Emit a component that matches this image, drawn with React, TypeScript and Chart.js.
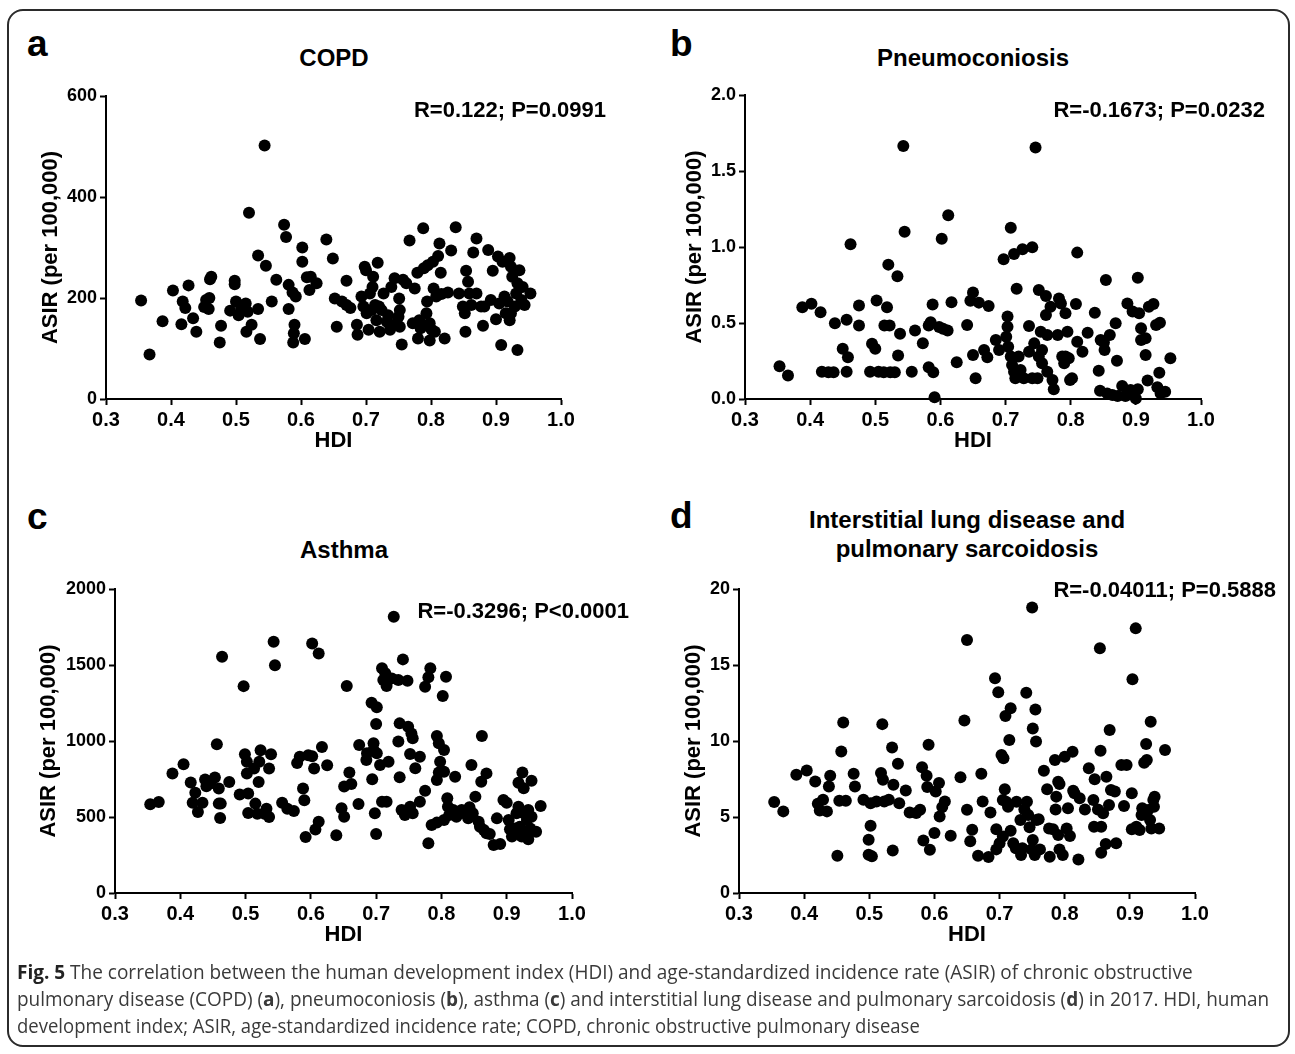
import React, { useEffect, useLayoutEffect, useRef, useState } from 'react';
import { Chart, registerables } from 'chart.js';

Chart.register(...registerables);

const FONT = '"Liberation Sans", Arial, Helvetica, sans-serif';
const CAPTION_FONT = '"Open Sans", "Noto Sans", sans-serif';

// ---- tick labels ----
const xTickValues = [0.3, 0.4, 0.5, 0.6, 0.7, 0.8, 0.9, 1.0];
const yTicksCopd = [0, 200, 400, 600];
const yTicksPneumo = [0, 0.5, 1.0, 1.5, 2.0];
const yTicksAsthma = [0, 500, 1000, 1500, 2000];
const yTicksIld = [0, 5, 10, 15, 20];

// ---- panel a: COPD ----
const hdiCopd = [
  0.354, 0.367, 0.387, 0.403, 0.416, 0.418, 0.422, 0.427, 0.434, 0.439, 0.451, 0.454, 0.458, 0.46, 0.462, 0.459,
  0.477, 0.475, 0.491, 0.498, 0.498, 0.5, 0.504, 0.508, 0.515, 0.518, 0.516, 0.52, 0.524, 0.534, 0.534, 0.537,
  0.544, 0.546, 0.555, 0.562, 0.574, 0.577, 0.581, 0.581, 0.587, 0.59, 0.589, 0.588, 0.592, 0.602, 0.602, 0.606,
  0.609, 0.613, 0.615, 0.624, 0.639,
  0.649, 0.655, 0.652, 0.663, 0.67, 0.67, 0.676, 0.686, 0.687, 0.693, 0.696, 0.698, 0.7, 0.701, 0.704, 0.706,
  0.709, 0.71, 0.711, 0.718, 0.714, 0.716, 0.72, 0.721, 0.727, 0.724, 0.732, 0.734, 0.737, 0.739, 0.744, 0.747,
  0.75, 0.751, 0.752, 0.755, 0.757, 0.762, 0.752, 0.767, 0.772, 0.775, 0.779, 0.78, 0.782, 0.784, 0.788, 0.789,
  0.793, 0.794, 0.795, 0.798, 0.798, 0.801, 0.803, 0.804, 0.806, 0.808, 0.811, 0.813, 0.815, 0.816, 0.821, 0.826,
  0.831, 0.838, 0.843, 0.849, 0.852, 0.853, 0.854, 0.857, 0.859, 0.862, 0.865, 0.87, 0.87, 0.877, 0.88, 0.882,
  0.888, 0.892, 0.895, 0.9, 0.903, 0.905, 0.908, 0.91, 0.913, 0.915, 0.918, 0.921, 0.923, 0.925, 0.929, 0.931,
  0.933, 0.933, 0.936, 0.939, 0.941, 0.944, 0.953, 0.923, 0.921,
];
const asirCopd = [
  195, 88, 154, 215, 148, 193, 180, 225, 160, 133, 182, 196, 178, 237, 242, 200,
  145, 112, 175, 234, 227, 193, 166, 180, 189, 173, 133, 369, 147, 284, 178, 119,
  502, 264, 193, 236, 345, 321, 226, 178, 211, 147, 130, 112, 203, 300, 272, 119,
  241, 216, 242, 229, 316,
  278, 143, 199, 193, 186, 234, 180, 147, 127, 203, 183, 262, 255, 170, 137, 209,
  176, 222, 242, 270, 186, 156, 183, 133, 209, 176, 153, 166, 137, 222, 239, 150,
  163, 199, 176, 108, 236, 229, 143, 314, 150, 219, 250, 120, 156, 140, 338, 259,
  170, 193, 265, 116, 150, 137, 272, 219, 133, 203, 283, 308, 250, 208, 120, 211,
  294, 340, 209, 183, 170, 133, 254, 232, 209, 186, 290, 318, 209, 183, 145, 183,
  295, 196, 254, 158, 282, 189, 107, 272, 203, 170, 193, 279, 262, 242, 183, 209,
  97, 229, 255, 196, 222, 186, 209, 170, 156,
];

// ---- panel b: Pneumoconiosis ----
const hdiPneumo = [
  0.353, 0.366, 0.388, 0.402, 0.416, 0.418, 0.428, 0.436, 0.438, 0.45, 0.456, 0.458, 0.456, 0.462, 0.475, 0.475,
  0.492, 0.495, 0.5, 0.502, 0.505, 0.513, 0.514, 0.518, 0.52, 0.522, 0.523, 0.53, 0.534, 0.535, 0.538, 0.543,
  0.545, 0.556, 0.561, 0.573, 0.582, 0.582, 0.588, 0.589, 0.591, 0.585, 0.598, 0.602, 0.604, 0.611, 0.612, 0.617,
  0.625,
  0.746, 0.708, 0.697, 0.713, 0.726, 0.741, 0.81, 0.717, 0.751, 0.762, 0.65, 0.646, 0.659, 0.674, 0.641, 0.65,
  0.654, 0.667, 0.672, 0.685, 0.69, 0.703, 0.703, 0.701, 0.704, 0.708, 0.71, 0.713, 0.715, 0.72, 0.723, 0.728,
  0.736, 0.736, 0.744, 0.741, 0.749, 0.751, 0.754, 0.756, 0.756, 0.762, 0.764, 0.764, 0.769, 0.772, 0.774, 0.78,
  0.782, 0.785, 0.787, 0.79, 0.792, 0.795, 0.797, 0.799, 0.802, 0.808, 0.81, 0.818, 0.826, 0.837, 0.843, 0.845,
  0.846, 0.851, 0.854, 0.852, 0.856, 0.86, 0.864, 0.869, 0.871, 0.872, 0.879, 0.884, 0.887, 0.892, 0.895, 0.9,
  0.903, 0.903, 0.905, 0.908, 0.908, 0.915, 0.915, 0.918, 0.92, 0.927, 0.931, 0.936, 0.937, 0.933, 0.938, 0.945,
  0.953, 0.792,
];
const asirPneumo = [
  0.215, 0.154, 0.604, 0.626, 0.571, 0.18, 0.176, 0.176, 0.499, 0.33, 0.521, 0.275, 0.18, 1.018, 0.615, 0.484,
  0.18, 0.363, 0.33, 0.648, 0.18, 0.176, 0.484, 0.604, 0.884, 0.484, 0.176, 0.176, 0.807, 0.286, 0.429, 1.664,
  1.101, 0.18, 0.451, 0.367, 0.484, 0.209, 0.622, 0.176, 0.011, 0.505, 0.473, 1.055, 0.462, 0.451, 1.209, 0.637,
  0.242,
  1.655, 1.127, 0.919, 0.954, 0.985, 0.998, 0.963, 0.726, 0.717, 0.678, 0.7, 0.647, 0.634, 0.612, 0.487, 0.289,
  0.136, 0.322, 0.274, 0.388, 0.322, 0.542, 0.476, 0.41, 0.344, 0.279, 0.224, 0.18, 0.136, 0.279, 0.191, 0.136,
  0.48, 0.311, 0.366, 0.136, 0.136, 0.279, 0.443, 0.322, 0.235, 0.553, 0.421, 0.18, 0.607, 0.125, 0.064, 0.421,
  0.662, 0.629, 0.279, 0.235, 0.564, 0.443, 0.268, 0.125, 0.136, 0.625, 0.377, 0.311, 0.436, 0.568, 0.186, 0.055,
  0.388, 0.371, 0.783, 0.322, 0.037, 0.421, 0.026, 0.498, 0.252, 0.02, 0.086, 0.02, 0.629, 0.059, 0.575, 0.004,
  0.798, 0.064, 0.564, 0.465, 0.388, 0.399, 0.289, 0.121, 0.607, 0.625, 0.487, 0.173, 0.502, 0.077, 0.037, 0.048,
  0.268, 0.279,
];

// ---- panel c: Asthma ----
const hdiAsthma = [
  0.354, 0.367, 0.388, 0.405, 0.416, 0.419, 0.423, 0.427, 0.434, 0.438, 0.44, 0.446, 0.453, 0.456, 0.459, 0.459,
  0.461, 0.462, 0.464, 0.475, 0.491, 0.497, 0.499, 0.502, 0.504, 0.504, 0.502, 0.513, 0.515, 0.518, 0.52, 0.521,
  0.523, 0.529, 0.532, 0.536, 0.536, 0.539, 0.543, 0.545, 0.556, 0.564, 0.574, 0.579, 0.583, 0.588, 0.59, 0.592,
  0.596, 0.602, 0.602, 0.605, 0.607, 0.612, 0.612, 0.617, 0.625, 0.639,
  0.727, 0.741, 0.709, 0.714, 0.711, 0.716, 0.724, 0.734, 0.748, 0.783, 0.78, 0.775, 0.807, 0.802, 0.655, 0.693,
  0.701, 0.7, 0.736, 0.749, 0.754, 0.756, 0.793, 0.796, 0.862, 0.674, 0.696, 0.734, 0.686, 0.685, 0.696, 0.701,
  0.706, 0.719, 0.752, 0.767, 0.76, 0.804, 0.798, 0.796, 0.793, 0.804, 0.821, 0.846, 0.861, 0.869, 0.924, 0.918,
  0.926, 0.938, 0.659, 0.651, 0.662, 0.694, 0.736, 0.647, 0.651, 0.673, 0.698, 0.709, 0.716, 0.7, 0.739, 0.744,
  0.752, 0.756, 0.767, 0.775, 0.78, 0.785, 0.793, 0.804, 0.809, 0.81, 0.812, 0.818, 0.823, 0.831, 0.836, 0.841,
  0.843, 0.848, 0.852, 0.857, 0.859, 0.865, 0.869, 0.874, 0.88, 0.885, 0.89, 0.895, 0.9, 0.903, 0.905, 0.908,
  0.913, 0.915, 0.918, 0.92, 0.923, 0.926, 0.931, 0.933, 0.933, 0.936, 0.938, 0.945, 0.952, 0.931,
];
const asirAsthma = [
  584, 599, 786, 847, 727, 593, 659, 533, 593, 746, 702, 720, 760, 979, 687, 588,
  494, 588, 1554, 731, 648, 1361, 913, 863, 654, 527, 786, 819, 588, 522, 731, 863,
  939, 522, 555, 500, 819, 913, 1653, 1499, 593, 555, 540, 856, 896, 687, 610, 369,
  907, 1642, 900, 819, 417, 468, 1576, 961, 841, 380,
  1818, 1537, 1478, 1445, 1401, 1362, 1412, 1401, 1397, 1478, 1419, 1357, 1423, 1296, 1362, 1252,
  1222, 1112, 1116, 1094, 1050, 1018, 1033, 985, 1033, 974, 985, 996, 919, 875, 941, 919,
  842, 864, 914, 897, 820, 941, 864, 792, 743, 798, 765, 842, 732, 787, 792, 726,
  689, 739, 792, 700, 717, 748, 761, 557, 502, 586, 524, 601, 601, 388, 546, 513,
  568, 524, 601, 673, 327, 447, 463, 480, 623, 568, 513, 546, 502, 546, 524, 491,
  564, 524, 634, 469, 436, 414, 393, 388, 316, 491, 322, 612, 594, 480, 419, 371,
  425, 524, 568, 436, 371, 524, 480, 546, 353, 425, 502, 403, 572, 393,
];

// ---- panel d: Interstitial lung disease and pulmonary sarcoidosis ----
const hdiIld = [
  0.354, 0.368, 0.388, 0.404, 0.417, 0.421, 0.424, 0.429, 0.435, 0.438, 0.44, 0.451, 0.454, 0.457, 0.46, 0.464,
  0.476, 0.478, 0.491, 0.499, 0.502, 0.502, 0.499, 0.504, 0.511, 0.518, 0.52, 0.521, 0.523, 0.53, 0.535, 0.536,
  0.537, 0.544, 0.546, 0.556, 0.562, 0.572, 0.578, 0.581, 0.583, 0.588, 0.589, 0.591, 0.593, 0.6, 0.602, 0.607,
  0.608, 0.612, 0.616, 0.625, 0.64, 0.646, 0.65, 0.65, 0.655, 0.658, 0.667, 0.672, 0.674, 0.683, 0.686, 0.693,
  0.695, 0.698, 0.695,
  0.75, 0.703, 0.706, 0.708, 0.705, 0.71, 0.709, 0.717, 0.715, 0.7, 0.705, 0.713, 0.717, 0.721, 0.726, 0.725,
  0.732, 0.733, 0.735, 0.741, 0.738, 0.742, 0.744, 0.746, 0.749, 0.751, 0.755, 0.751, 0.756, 0.754, 0.757, 0.76,
  0.762, 0.768, 0.773, 0.776, 0.777, 0.782, 0.785, 0.787, 0.79, 0.786, 0.792, 0.79, 0.792, 0.797, 0.8, 0.803,
  0.805, 0.808, 0.812, 0.813, 0.815, 0.821, 0.823, 0.831, 0.837, 0.844, 0.846, 0.845, 0.851, 0.854, 0.855, 0.856,
  0.856, 0.859, 0.863, 0.864, 0.869, 0.871, 0.877, 0.879, 0.868, 0.887, 0.895, 0.891, 0.903, 0.904, 0.909, 0.903,
  0.91, 0.915, 0.919, 0.918, 0.922, 0.926, 0.925, 0.932, 0.928, 0.931, 0.933, 0.936, 0.937, 0.938, 0.945, 0.954,
];
const asirIld = [
  5.98, 5.37, 7.78, 8.06, 7.34, 5.87, 5.43, 6.13, 5.37, 7.01, 7.71, 2.45, 6.07, 9.31, 11.22, 6.07,
  7.84, 7.01, 6.13, 3.5, 4.42, 5.91, 2.52, 2.41, 6.02, 7.89, 11.11, 7.45, 6.02, 6.13, 9.57, 2.8,
  7.12, 8.5, 5.91, 6.75, 5.3, 5.26, 5.48, 8.28, 3.46, 7.71, 6.97, 9.75, 2.85, 3.94, 6.68, 7.23,
  5.04, 5.65, 6.02, 3.77, 7.62, 11.35, 16.65, 5.48, 3.4, 4.16, 2.45, 7.84, 6.02, 2.37, 5.3, 14.13,
  4.2, 13.21, 2.87,
  18.79, 9.08, 8.86, 6.82, 6.12, 6.01, 11.64, 12.15, 10.07, 3.27, 3.71, 5.68, 4.1, 3.27, 6.01, 2.94,
  4.8, 2.5, 2.94, 13.18, 5.5, 6.01, 5.13, 4.32, 2.87, 3.49, 12.08, 10.83, 9.96, 2.5, 4.8, 4.85,
  2.87, 8.05, 6.82, 4.25, 2.39, 4.19, 8.75, 6.34, 7.32, 5.5, 7.17, 3.82, 2.87, 2.5, 8.97, 4.25,
  5.57, 3.75, 9.3, 6.73, 6.56, 2.21, 6.23, 5.5, 8.2, 6.12, 7.48, 4.36, 5.5, 16.1, 9.36, 4.36,
  2.65, 5.24, 3.22, 7.65, 10.72, 6.78, 6.67, 3.27, 5.79, 8.42, 8.42, 5.72, 6.56, 14.06, 17.41, 4.19,
  4.36, 4.14, 5.57, 5.13, 8.57, 8.75, 9.8, 11.27, 5.46, 4.8, 4.25, 6.12, 5.68, 6.34, 4.25, 9.41,
];

type Box = [number, number, number, number];

interface PanelProps {
  box: Box; // canvas left, top, width, height
  area: Box; // chart area left, top, right, bottom
  yW: number;
  hdi: number[];
  asir: number[];
  yTicks: number[];
  yDecimals: boolean;
}

const X_AXIS_H = 59;

function ScatterPanel({ box, area, yW, hdi, asir, yTicks, yDecimals }: PanelProps) {
  const ref = useRef<HTMLCanvasElement>(null);
  useEffect(() => {
    const canvas = ref.current;
    if (!canvas) return;
    const [bx, by, bw, bh] = box;
    const [L, T, R, B] = area;
    const axisGrid = {
      display: true,
      drawOnChartArea: false,
      drawTicks: true,
      tickLength: 6,
      tickWidth: 2,
      tickColor: '#000',
    };
    const axisBorder = { display: true, color: '#000', width: 2 };
    const chart = new Chart(canvas, {
      type: 'scatter',
      data: {
        datasets: [
          {
            data: hdi.map((x, i) => ({ x, y: asir[i] })),
            backgroundColor: '#000',
            borderColor: '#000',
            borderWidth: 0,
            pointRadius: 6,
            pointHoverRadius: 6,
            clip: false,
          } as any,
        ],
      },
      options: {
        animation: false,
        responsive: false,
        devicePixelRatio: 1,
        events: [],
        layout: {
          padding: { left: L - bx - yW, top: T - by, right: bx + bw - R, bottom: by + bh - B - X_AXIS_H },
        },
        plugins: { legend: { display: false }, tooltip: { enabled: false }, title: { display: false } },
        scales: {
          x: {
            type: 'linear',
            min: xTickValues[0],
            max: xTickValues[xTickValues.length - 1],
            afterBuildTicks: (s: any) => {
              s.ticks = xTickValues.map((v) => ({ value: v }));
            },
            afterFit: (s: any) => {
              s.height = X_AXIS_H;
            },
            ticks: {
              callback: (v: any) => Number(v).toFixed(1),
              font: { family: FONT, size: 20, weight: 'bold' },
              color: '#000',
              padding: 3,
              maxRotation: 0,
              autoSkip: false,
            },
            grid: axisGrid,
            border: axisBorder,
            title: {
              display: true,
              text: 'HDI',
              font: { family: FONT, size: 22, weight: 'bold' },
              color: '#000',
              padding: { top: 0, bottom: 4 },
            },
          },
          y: {
            type: 'linear',
            min: yTicks[0],
            max: yTicks[yTicks.length - 1],
            afterBuildTicks: (s: any) => {
              s.ticks = yTicks.map((v) => ({ value: v }));
            },
            afterFit: (s: any) => {
              s.width = yW;
            },
            ticks: {
              callback: (v: any) => (yDecimals ? Number(v).toFixed(1) : String(v)),
              font: { family: FONT, size: 18, weight: 'bold' },
              color: '#000',
              padding: 3,
              autoSkip: false,
            },
            grid: axisGrid,
            border: axisBorder,
            title: {
              display: true,
              text: 'ASIR (per 100,000)',
              font: { family: FONT, size: 22, weight: 'bold' },
              color: '#000',
              padding: { top: 4, bottom: 0 },
            },
          },
        },
      } as any,
    });
    return () => chart.destroy();
  }, []);
  const [bx, by, bw, bh] = box;
  return (
    <canvas
      ref={ref}
      width={bw}
      height={bh}
      style={{ position: 'absolute', left: bx, top: by, width: bw, height: bh }}
    />
  );
}

function Txt({
  x,
  y,
  size,
  align = 'center',
  children,
}: {
  x: number;
  y: number;
  size: number;
  align?: 'center' | 'left' | 'right';
  children: React.ReactNode;
}) {
  const tx = align === 'center' ? '-50%' : align === 'right' ? '-100%' : '0';
  return (
    <div
      style={{
        position: 'absolute',
        left: x,
        top: y,
        transform: `translate(${tx}, -50%)`,
        fontFamily: FONT,
        fontWeight: 'bold',
        fontSize: size,
        lineHeight: 1,
        whiteSpace: 'nowrap',
        color: '#000',
      }}
    >
      {children}
    </div>
  );
}

function FitLine({ top, width, children }: { top: number; width: number; children: React.ReactNode }) {
  const ref = useRef<HTMLDivElement>(null);
  const [sx, setSx] = useState(1);
  useLayoutEffect(() => {
    const el = ref.current;
    if (!el) return;
    const w = el.offsetWidth;
    if (w > 0) setSx(width / w);
  }, [width]);
  return (
    <div
      ref={ref}
      style={{
        position: 'absolute',
        left: 17,
        top,
        whiteSpace: 'nowrap',
        fontFamily: CAPTION_FONT,
        fontSize: 20,
        lineHeight: '26px',
        color: '#3a3a3a',
        transformOrigin: '0 50%',
        transform: `scaleX(${sx})`,
      }}
    >
      {children}
    </div>
  );
}

export default function App() {
  return (
    <div
      style={{
        position: 'absolute',
        left: 0,
        top: 0,
        width: 1295,
        height: 1054,
        overflow: 'hidden',
        background: '#fff',
      }}
    >
      <div
        style={{
          position: 'absolute',
          left: 7,
          top: 9,
          width: 1283,
          height: 1038,
          border: '2px solid #2b2b2b',
          borderRadius: 16,
          boxSizing: 'border-box',
        }}
      />

      {/* panel letters */}
      <Txt x={27} y={42.5} size={37} align="left">a</Txt>
      <Txt x={670} y={42.5} size={37} align="left">b</Txt>
      <Txt x={27} y={515.5} size={37} align="left">c</Txt>
      <Txt x={670} y={514.5} size={37} align="left">d</Txt>

      {/* titles */}
      <Txt x={334} y={57.5} size={24}>COPD</Txt>
      <Txt x={973} y={57.5} size={24}>Pneumoconiosis</Txt>
      <Txt x={344} y={550} size={24}>Asthma</Txt>
      <Txt x={967} y={520} size={24}>Interstitial lung disease and</Txt>
      <Txt x={967} y={549} size={24}>pulmonary sarcoidosis</Txt>

      {/* charts */}
      <ScatterPanel box={[0, 70, 640, 400]} area={[106, 96, 561, 399]} yW={72} hdi={hdiCopd} asir={asirCopd} yTicks={yTicksCopd} yDecimals={false} />
      <ScatterPanel box={[645, 70, 645, 400]} area={[745, 95, 1201, 399]} yW={67} hdi={hdiPneumo} asir={asirPneumo} yTicks={yTicksPneumo} yDecimals={true} />
      <ScatterPanel box={[0, 570, 640, 390]} area={[115, 589, 572, 893]} yW={83} hdi={hdiAsthma} asir={asirAsthma} yTicks={yTicksAsthma} yDecimals={false} />
      <ScatterPanel box={[645, 570, 645, 390]} area={[739, 589, 1195, 893]} yW={62} hdi={hdiIld} asir={asirIld} yTicks={yTicksIld} yDecimals={false} />

      {/* correlation annotations */}
      <Txt x={606} y={110} size={22} align="right">R=0.122; P=0.0991</Txt>
      <Txt x={1265} y={110} size={22} align="right">R=-0.1673; P=0.0232</Txt>
      <Txt x={629} y={611} size={22} align="right">R=-0.3296; P&lt;0.0001</Txt>
      <Txt x={1276} y={590} size={22} align="right">R=-0.04011; P=0.5888</Txt>

      {/* caption */}
      <FitLine top={959} width={1176}>
        <b style={{ color: '#222' }}>Fig. 5</b> The correlation between the human development index (HDI) and age-standardized incidence rate (ASIR) of chronic obstructive
      </FitLine>
      <FitLine top={986} width={1252}>
        pulmonary disease (COPD) (<b>a</b>), pneumoconiosis (<b>b</b>), asthma (<b>c</b>) and interstitial lung disease and pulmonary sarcoidosis (<b>d</b>) in 2017. HDI, human
      </FitLine>
      <FitLine top={1013} width={903}>
        development index; ASIR, age-standardized incidence rate; COPD, chronic obstructive pulmonary disease
      </FitLine>
    </div>
  );
}
